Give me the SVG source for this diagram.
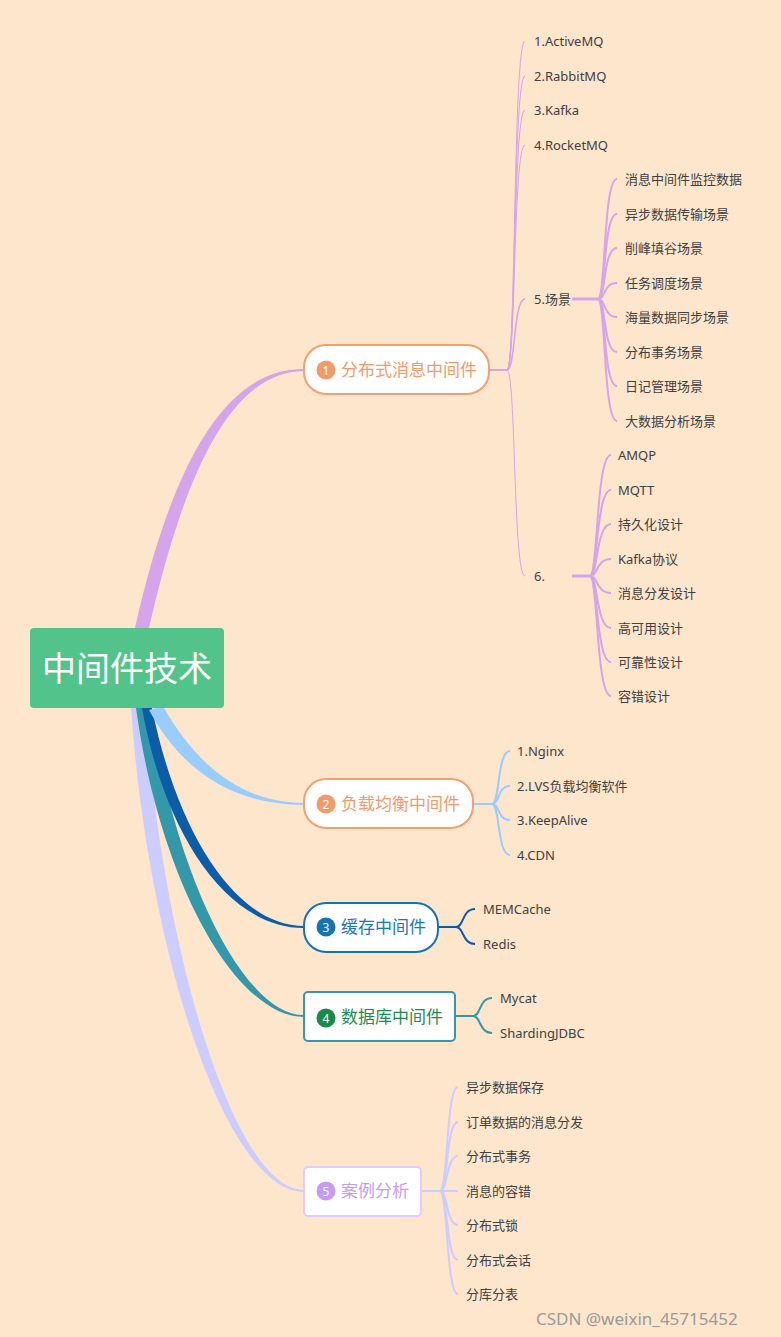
<svg xmlns="http://www.w3.org/2000/svg" width="781" height="1337" viewBox="0 0 781 1337">
<style>
text{font-family:"Noto Sans","Noto Sans CJK SC",sans-serif;}
.leaf{font-size:13px;fill:#404040;dominant-baseline:central;}
.lbl{font-size:17px;dominant-baseline:central;}
.num{font-size:12px;fill:#fff;text-anchor:middle;dominant-baseline:central;}
.c1{fill:none;stroke:#D4A5EA;}
.c2{fill:none;stroke:#99CCFF;stroke-width:2;}
.c3{fill:none;stroke:#0B5DA8;stroke-width:2;}
.c4{fill:none;stroke:#3399AA;stroke-width:2;}
.c5{fill:none;stroke:#CCCCFF;stroke-width:2;}
</style>
<rect x="0" y="0" width="781" height="1337" fill="#FEE6CD"/>
<g id="connectors">
<path d="M135,628 C173,458 228,368 304,369 L304,371 C234,372 187,462 149,628 Z" fill="#D4A5EA"/>
<path d="M131,708 C148,952 226,1192 304,1192 L304,1190 C234,1190 162,948 145,708 Z" fill="#CCCCFF"/>
<path d="M136,708 C160,882 236,1017 304,1017 L304,1015 C244,1015 176,878 150,708 Z" fill="#3399AA"/>
<path d="M142,708 C164,832 226,928 304,928 L304,926 C234,926 176,828 152,708 Z" fill="#0B5DA8"/>
<path d="M149,710 C184,775 238,805 304,805 L304,803 C242,803 196,765 163,706 Z" fill="#99CCFF"/>
<path class="c1" stroke-width="2" d="M489,370 H507"/>
<path class="c1" stroke-width="1" d="M507,370 C516,370 513,41 525,41"/>
<path class="c1" stroke-width="1" d="M507,370 C516,370 513,76 525,76"/>
<path class="c1" stroke-width="1" d="M507,370 C516,370 513,110 525,110"/>
<path class="c1" stroke-width="1" d="M507,370 C516,370 513,145 525,145"/>
<path class="c1" stroke-width="1.5" d="M507,370 C516,370 513,299 525,299"/>
<path class="c1" stroke-width="1" d="M507,370 C516,370 513,576 525,576"/>
<path class="c1" stroke-width="3" d="M572,299 H598"/>
<path class="c1" stroke-width="2" d="M598,299 C606,299 603,179 617,179"/>
<path class="c1" stroke-width="2" d="M598,299 C606,299 603,214 617,214"/>
<path class="c1" stroke-width="2" d="M598,299 C606,299 603,248 617,248"/>
<path class="c1" stroke-width="2" d="M598,299 C606,299 603,283 617,283"/>
<path class="c1" stroke-width="2" d="M598,299 C606,299 603,317 617,317"/>
<path class="c1" stroke-width="2" d="M598,299 C606,299 603,352 617,352"/>
<path class="c1" stroke-width="2" d="M598,299 C606,299 603,386 617,386"/>
<path class="c1" stroke-width="2" d="M598,299 C606,299 603,421 617,421"/>
<path class="c1" stroke-width="3" d="M572,576 H590"/>
<path class="c1" stroke-width="2" d="M590,576 C598,576 596,455 611,455"/>
<path class="c1" stroke-width="2" d="M590,576 C598,576 596,490 611,490"/>
<path class="c1" stroke-width="2" d="M590,576 C598,576 596,524 611,524"/>
<path class="c1" stroke-width="2" d="M590,576 C598,576 596,559 611,559"/>
<path class="c1" stroke-width="2" d="M590,576 C598,576 596,593 611,593"/>
<path class="c1" stroke-width="2" d="M590,576 C598,576 596,628 611,628"/>
<path class="c1" stroke-width="2" d="M590,576 C598,576 596,662 611,662"/>
<path class="c1" stroke-width="2" d="M590,576 C598,576 596,696 611,696"/>
<path class="c2" stroke-width="2.5" d="M473,804 H492"/>
<path class="c2" d="M492,804 C500,804 497,751 510,751"/>
<path class="c2" d="M492,804 C500,804 497,786 510,786"/>
<path class="c2" d="M492,804 C500,804 497,820 510,820"/>
<path class="c2" d="M492,804 C500,804 497,855 510,855"/>
<path class="c3" stroke-width="2.5" d="M438,927 H456"/>
<path class="c3" d="M456,927 C464,927 462,909 475,909"/>
<path class="c3" d="M456,927 C464,927 462,944 475,944"/>
<path class="c4" stroke-width="2.5" d="M455,1016 H473"/>
<path class="c4" d="M473,1016 C481,1016 479,998 492,998"/>
<path class="c4" d="M473,1016 C481,1016 479,1033 492,1033"/>
<path class="c5" stroke-width="2.5" d="M421,1191 H440"/>
<path class="c5" d="M440,1191 C448,1191 446,1087 458,1087"/>
<path class="c5" d="M440,1191 C448,1191 446,1122 458,1122"/>
<path class="c5" d="M440,1191 C448,1191 446,1156 458,1156"/>
<path class="c5" d="M440,1191 C448,1191 446,1191 458,1191"/>
<path class="c5" d="M440,1191 C448,1191 446,1225 458,1225"/>
<path class="c5" d="M440,1191 C448,1191 446,1260 458,1260"/>
<path class="c5" d="M440,1191 C448,1191 446,1294 458,1294"/>
</g>
<g id="root">
<rect x="30" y="628" width="194" height="80" rx="4" fill="#52C48B"/>
<text x="127" y="668" font-size="34" fill="#fff" text-anchor="middle" dominant-baseline="central">中间件技术</text>
</g>
<g id="node1">
<rect x="304" y="345" width="185" height="49" rx="22" fill="#fff" stroke="#F2A070" stroke-width="2"/>
<circle cx="326" cy="370" r="9.5" fill="#F29B6A"/>
<text class="num" x="326" y="370">1</text>
<text class="lbl" x="341" y="369" fill="#F29B6A">分布式消息中间件</text>
</g>
<g id="node1-leaves">
<text class="leaf" x="534" y="41">1.ActiveMQ</text>
<text class="leaf" x="534" y="76">2.RabbitMQ</text>
<text class="leaf" x="534" y="110">3.Kafka</text>
<text class="leaf" x="534" y="145">4.RocketMQ</text>
<text class="leaf" x="534" y="299">5.场景</text>
<text class="leaf" x="534" y="576">6.</text>
</g>
<g id="node1-5">
<text class="leaf" x="625" y="179">消息中间件监控数据</text>
<text class="leaf" x="625" y="214">异步数据传输场景</text>
<text class="leaf" x="625" y="248">削峰填谷场景</text>
<text class="leaf" x="625" y="283">任务调度场景</text>
<text class="leaf" x="625" y="317">海量数据同步场景</text>
<text class="leaf" x="625" y="352">分布事务场景</text>
<text class="leaf" x="625" y="386">日记管理场景</text>
<text class="leaf" x="625" y="421">大数据分析场景</text>
</g>
<g id="node1-6">
<text class="leaf" x="618" y="455">AMQP</text>
<text class="leaf" x="618" y="490">MQTT</text>
<text class="leaf" x="618" y="524">持久化设计</text>
<text class="leaf" x="618" y="559">Kafka协议</text>
<text class="leaf" x="618" y="593">消息分发设计</text>
<text class="leaf" x="618" y="628">高可用设计</text>
<text class="leaf" x="618" y="662">可靠性设计</text>
<text class="leaf" x="618" y="696">容错设计</text>
</g>
<g id="node2">
<rect x="304" y="779" width="169" height="49" rx="22" fill="#fff" stroke="#F2A070" stroke-width="2"/>
<circle cx="326" cy="804" r="9.5" fill="#F29B6A"/>
<text class="num" x="326" y="804">2</text>
<text class="lbl" x="341" y="803" fill="#F29B6A">负载均衡中间件</text>
<text class="leaf" x="517" y="751">1.Nginx</text>
<text class="leaf" x="517" y="786">2.LVS负载均衡软件</text>
<text class="leaf" x="517" y="820">3.KeepAlive</text>
<text class="leaf" x="517" y="855">4.CDN</text>
</g>
<g id="node3">
<rect x="304" y="903" width="134" height="49" rx="22" fill="#fff" stroke="#1473B5" stroke-width="2"/>
<circle cx="326" cy="927" r="9.5" fill="#1473B5"/>
<text class="num" x="326" y="927">3</text>
<text class="lbl" x="341" y="926" fill="#1779BA">缓存中间件</text>
<text class="leaf" x="483" y="909">MEMCache</text>
<text class="leaf" x="483" y="944">Redis</text>
</g>
<g id="node4">
<rect x="304" y="992" width="151" height="49" rx="4" fill="#fff" stroke="#3399AA" stroke-width="2"/>
<circle cx="326" cy="1018" r="9.5" fill="#178A4C"/>
<text class="num" x="326" y="1018">4</text>
<text class="lbl" x="341" y="1016" fill="#1F8A4E">数据库中间件</text>
<text class="leaf" x="500" y="998">Mycat</text>
<text class="leaf" x="500" y="1033">ShardingJDBC</text>
</g>
<g id="node5">
<rect x="304" y="1167" width="117" height="49" rx="4" fill="#fff" stroke="#E2CCFF" stroke-width="2"/>
<circle cx="326" cy="1191" r="9.5" fill="#C79BF2"/>
<text class="num" x="326" y="1191">5</text>
<text class="lbl" x="341" y="1190" fill="#C79BF2">案例分析</text>
<text class="leaf" x="466" y="1087">异步数据保存</text>
<text class="leaf" x="466" y="1122">订单数据的消息分发</text>
<text class="leaf" x="466" y="1156">分布式事务</text>
<text class="leaf" x="466" y="1191">消息的容错</text>
<text class="leaf" x="466" y="1225">分布式锁</text>
<text class="leaf" x="466" y="1260">分布式会话</text>
<text class="leaf" x="466" y="1294">分库分表</text>
</g>
<text x="536" y="1318" font-size="17" fill="#9A9A9A" dominant-baseline="central">CSDN @weixin_45715452</text>
</svg>
